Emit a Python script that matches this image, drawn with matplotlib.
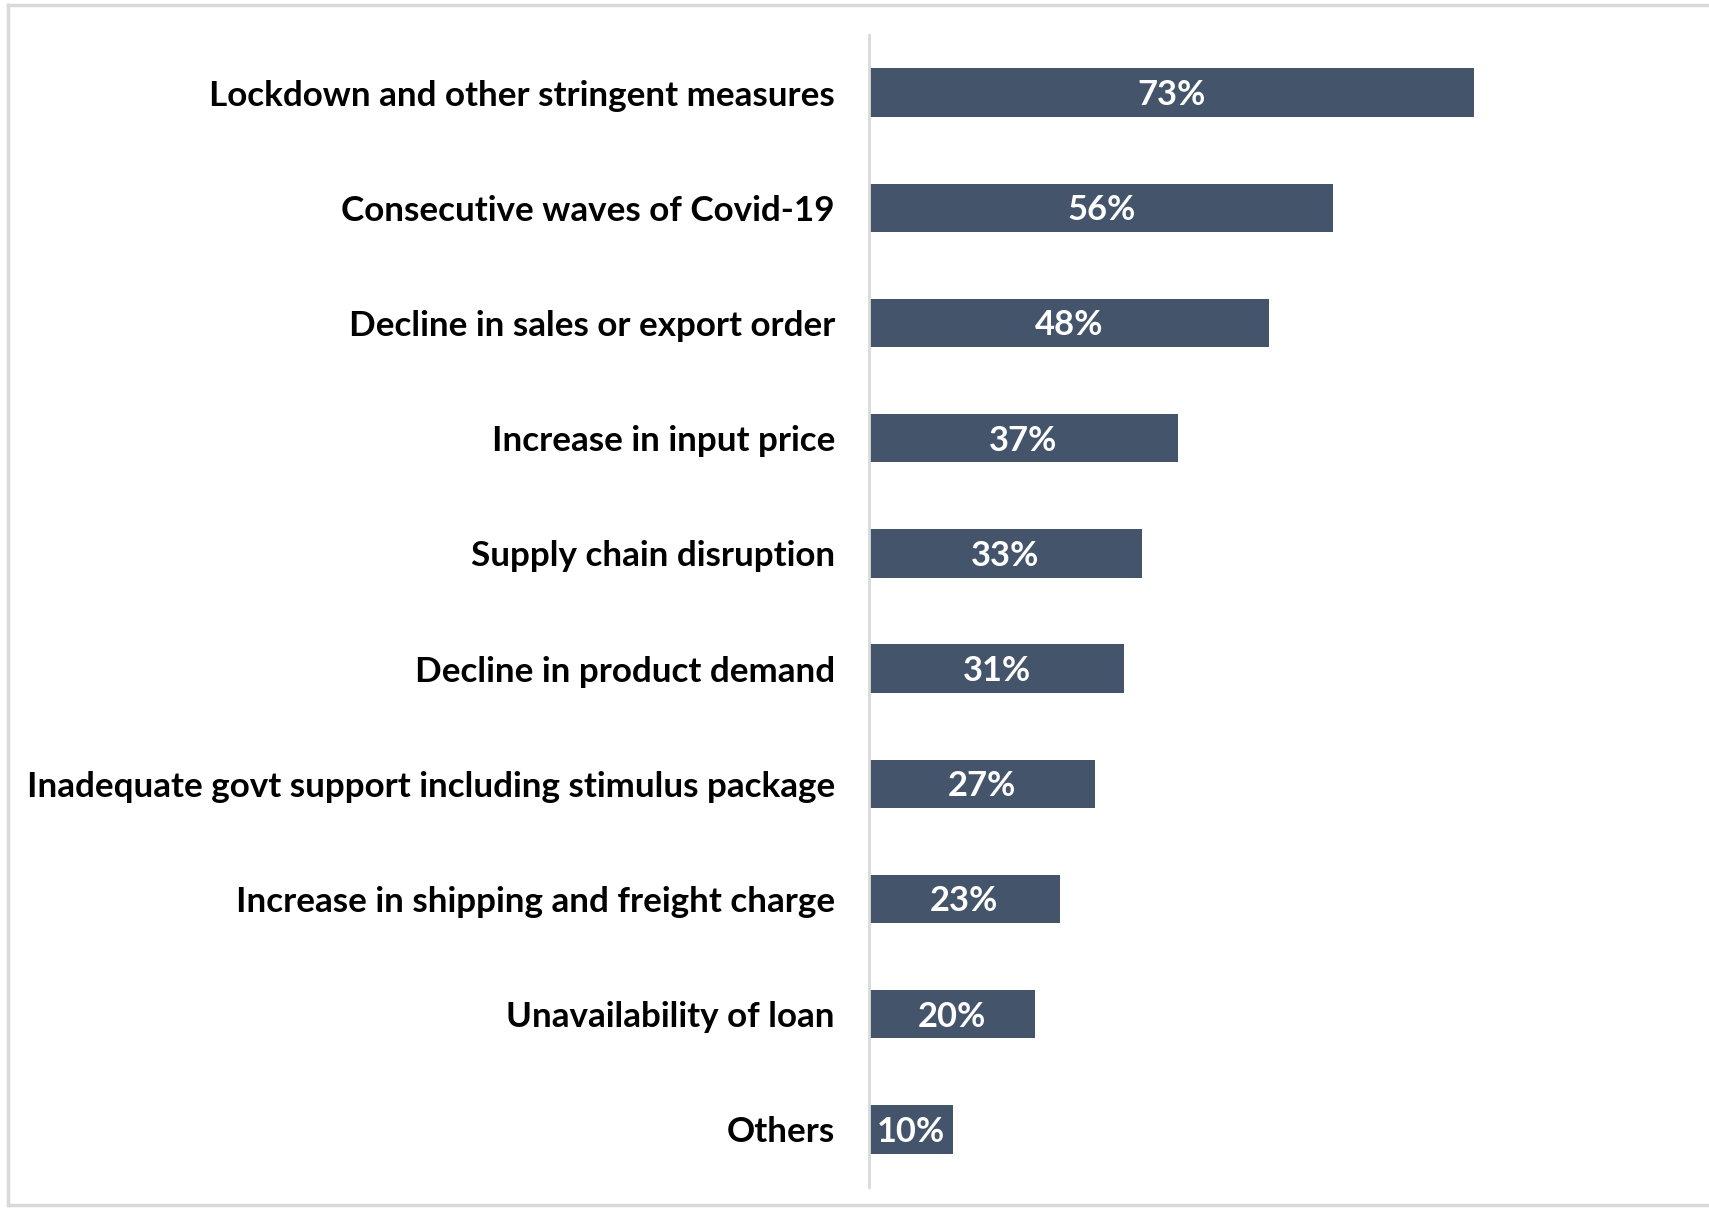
import matplotlib
matplotlib.use("Agg")
import matplotlib.pyplot as plt
from matplotlib.lines import Line2D

categories = [
    "Lockdown and other stringent measures",
    "Consecutive waves of Covid-19",
    "Decline in sales or export order",
    "Increase in input price",
    "Supply chain disruption",
    "Decline in product demand",
    "Inadequate govt support including stimulus package",
    "Increase in shipping and freight charge",
    "Unavailability of loan",
    "Others",
]
values = [73, 56, 48.2, 37.2, 32.9, 30.8, 27.3, 23.0, 20.0, 10.1]
value_labels = ["73%", "56%", "48%", "37%", "33%", "31%", "27%", "23%", "20%", "10%"]

W, H = 1709, 1208
fig = plt.figure(figsize=(W / 100, H / 100), dpi=100)
fig.patch.set_facecolor("white")

left_px, right_px = 869, 1530
top_px, bot_px = 35, 1187
ax = fig.add_axes([left_px / W, 1 - bot_px / H, (right_px - left_px) / W, (bot_px - top_px) / H])

bar_color = "#44546A"
ypos = list(range(len(categories)))
ax.barh(ypos, values, height=0.42, color=bar_color, edgecolor="none")
ax.set_xlim(0, 79.7)
ax.set_ylim(len(categories) - 0.5, -0.5)

font = "Lato"
for y, v, lab in zip(ypos, values, value_labels):
    ax.text(v / 2, y + 0.02, lab, ha="center", va="center", color="white",
            fontsize=24.8, fontweight="bold", family=font)

ax.set_yticks(ypos)
ax.set_yticklabels(categories, fontsize=25.2, fontweight="bold", family=font, color="black")
ax.tick_params(axis="y", length=0, pad=24.5)
ax.set_xticks([])
for s in ["top", "right", "bottom"]:
    ax.spines[s].set_visible(False)
ax.spines["left"].set_color("#D9D9D9")
ax.spines["left"].set_linewidth(2)

# outer border (light gray)
bc = "#D9D9D9"
fig.add_artist(Line2D([8 / W, 1], [1 - 5 / H, 1 - 5 / H], color=bc, lw=2.5, transform=fig.transFigure))
fig.add_artist(Line2D([8 / W, 8 / W], [1 - 5 / H, 1 - 1205 / H], color=bc, lw=2.5, transform=fig.transFigure))
fig.add_artist(Line2D([8 / W, 1], [1 - 1205 / H, 1 - 1205 / H], color=bc, lw=2.5, transform=fig.transFigure))

fig.savefig("out.png", dpi=100)
